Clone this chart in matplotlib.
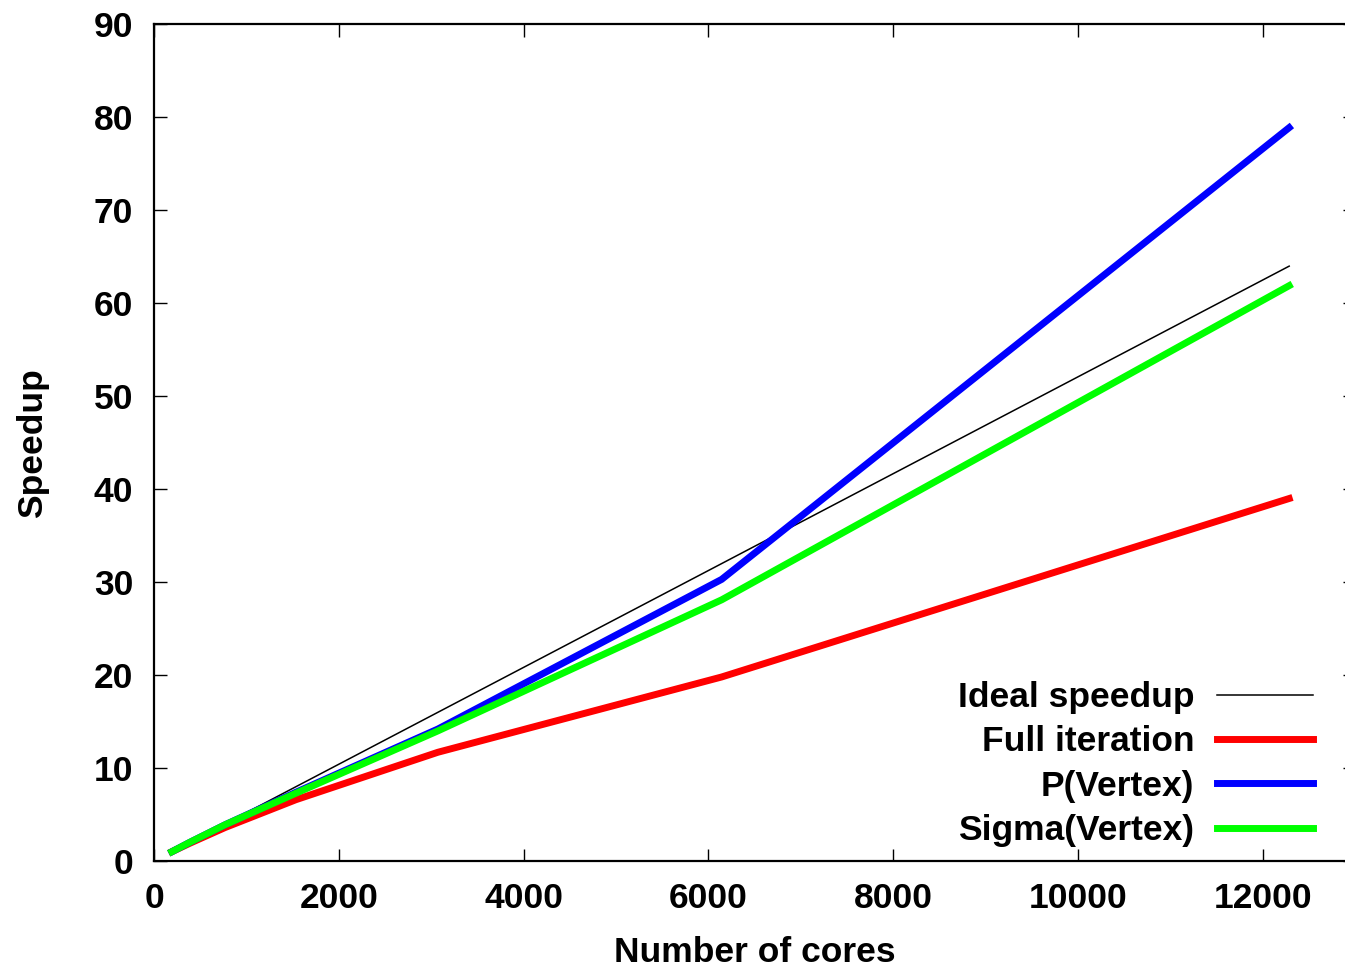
import matplotlib
matplotlib.use("Agg")
import matplotlib.pyplot as plt

# -------- DATA --------
cores = [192, 384, 768, 1536, 3072, 6144, 12288]
ideal_speedup = [1, 2, 4, 8, 16, 32, 64]
full_iteration = [1, 1.9, 3.6, 6.6, 11.7, 19.8, 39.0]
p_vertex = [1, 2.0, 3.9, 7.4, 14.2, 30.3, 78.9]
sigma_vertex = [1, 2.0, 3.9, 7.3, 14.0, 28.1, 61.9]

x_ticks = [0, 2000, 4000, 6000, 8000, 10000, 12000]
y_ticks = [0, 10, 20, 30, 40, 50, 60, 70, 80, 90]

FS = 25.5

plt.rcParams['font.family'] = ['Liberation Sans', 'DejaVu Sans']
plt.rcParams['font.weight'] = 'bold'

fig = plt.figure(figsize=(13.45, 9.67), dpi=100)
# right spine sits just past the figure edge
ax = fig.add_axes([0.1146, 0.1096, 0.8928, 0.8651])

ax.plot(cores, ideal_speedup, color='black', lw=1.1, label='Ideal speedup')
ax.plot(cores, full_iteration, color='#ff0000', lw=5, label='Full iteration')
ax.plot(cores, p_vertex, color='#0000ff', lw=5, label='P(Vertex)')
ax.plot(cores, sigma_vertex, color='#00ff00', lw=5, label='Sigma(Vertex)')

ax.set_xlim(0, 13000)
ax.set_ylim(0, 90)
ax.set_xticks(x_ticks)
ax.set_yticks(y_ticks)
ax.tick_params(direction='in', length=9, width=1, top=True, right=True,
               labelsize=FS, pad=15)
for s in ax.spines.values():
    s.set_linewidth(1.6)

ax.set_xlabel('Number of cores', fontsize=FS, fontweight='bold', labelpad=15)
ax.set_ylabel('Speedup', fontsize=FS, fontweight='bold', labelpad=32)

ax.legend(loc='lower right', bbox_to_anchor=(1313 / 1345, 120 / 967),
          bbox_transform=fig.transFigure, frameon=False, markerfirst=False,
          fontsize=FS, handlelength=2.7, handletextpad=0.65,
          labelspacing=0.32, borderpad=0, borderaxespad=0)

fig.savefig('out.png', dpi=100)
